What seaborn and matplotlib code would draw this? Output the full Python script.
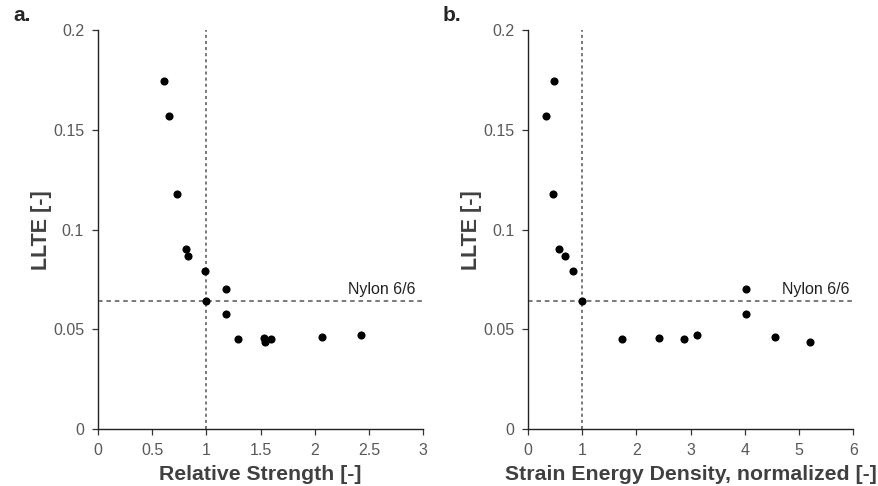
import seaborn as sns
import matplotlib.pyplot as plt
import pandas as pd
from matplotlib.ticker import FuncFormatter

# LLTE values
llte_a = [0.1744, 0.157, 0.1181, 0.0902, 0.0869, 0.0792, 0.0703, 0.064,
          0.0576, 0.0451, 0.0456, 0.0439, 0.0453, 0.0461, 0.0471]
rel_strength = [0.606, 0.652, 0.732, 0.809, 0.833, 0.990, 1.181, 1.0,
                1.181, 1.294, 1.531, 1.538, 1.599, 2.063, 2.426]

llte_b = [0.1744, 0.157, 0.1181, 0.0902, 0.0869, 0.0792, 0.0703, 0.064,
          0.0576, 0.0451, 0.0456, 0.0453, 0.0471, 0.0461, 0.0439]
strain_energy = [0.486, 0.332, 0.467, 0.566, 0.683, 0.830, 4.022, 1.0,
                 4.022, 1.740, 2.423, 2.878, 3.112, 4.557, 5.203]

nylon_llte = 0.064
nylon_x = 1.0

sns.set_style("ticks")
plt.rcParams['font.family'] = ['Liberation Sans', 'DejaVu Sans']

fig = plt.figure(figsize=(8.79, 4.86), dpi=100)
ax1 = fig.add_axes([0.1115, 0.117, 0.370, 0.821])
ax2 = fig.add_axes([0.6007, 0.117, 0.370, 0.821])

dfa = pd.DataFrame({"x": rel_strength, "y": llte_a})
dfb = pd.DataFrame({"x": strain_energy, "y": llte_b})

fmt = FuncFormatter(lambda v, p: f"{v:g}")

panels = [
    (ax1, dfa, 3, 0.5, 2.925, "Relative Strength [-]", "a.", 13),
    (ax2, dfb, 6, 1, 5.93, "Strain Energy Density, normalized [-]", "b.", 443),
]
for ax, df, xmax, xstep, tx, xlabel, tag, tagx in panels:
    ax.axhline(nylon_llte, color="#555555", ls=(0, (3, 2.5)), lw=1.1, zorder=1)
    ax.axvline(nylon_x, color="#555555", ls=(0, (2, 2)), lw=1.1, zorder=1)
    sns.scatterplot(data=df, x="x", y="y", ax=ax, color="black", s=34,
                    edgecolor="black", linewidth=0, zorder=3)
    ax.set_xlim(0, xmax)
    ax.set_ylim(0, 0.2)
    ax.set_xticks([i * xstep for i in range(int(round(xmax / xstep)) + 1)])
    ax.set_yticks([0, 0.05, 0.1, 0.15, 0.2])
    ax.xaxis.set_major_formatter(fmt)
    ax.yaxis.set_major_formatter(fmt)
    for s in ["top", "right"]:
        ax.spines[s].set_visible(False)
    for s in ["left", "bottom"]:
        ax.spines[s].set_color("#222222")
        ax.spines[s].set_linewidth(1.0)
    ax.tick_params(direction="out", length=4, width=0.9, color="#333333",
                   labelcolor="#595959", labelsize=11.5, pad=6)
    ax.set_xlabel(xlabel, fontsize=15.3, fontweight="bold", color="#404040", labelpad=5)
    ax.set_ylabel("LLTE [-]", fontsize=15.5, fontweight="bold", color="#404040")
    ax.yaxis.set_label_coords(-0.142, 0.5)
    ax.text(tx, nylon_llte + 0.002, "Nylon 6/6", ha="right", va="bottom",
            fontsize=11.5, color="#222222")
    fig.text(tagx / 879, 1 - 6 / 486, tag, fontsize=15, fontweight="bold",
             ha="left", va="top")

fig.savefig("out.png", dpi=100)
